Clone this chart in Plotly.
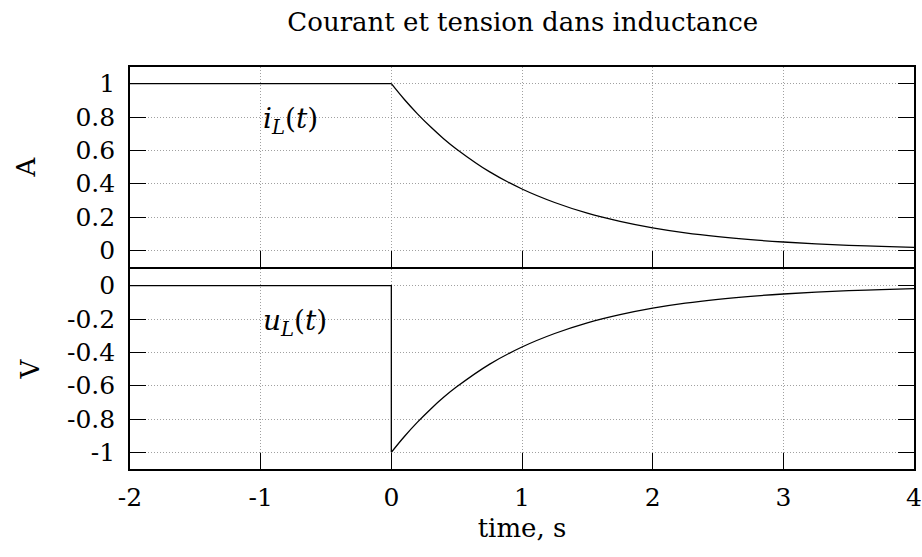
import plotly.graph_objects as go
from plotly.subplots import make_subplots

# ---- data ----
t_flat = [-2, 0]
i_flat = [1, 1]
t_decay = [0, 0.1, 0.2, 0.3, 0.4, 0.5, 0.75, 1.0, 1.25, 1.5, 1.75, 2.0, 2.25, 2.5,
           2.75, 3.0, 3.25, 3.5, 3.75, 4.0]
i_decay = [1.0, 0.905, 0.819, 0.741, 0.670, 0.607, 0.472, 0.368, 0.287, 0.223,
           0.174, 0.135, 0.105, 0.082, 0.064, 0.050, 0.039, 0.030, 0.024, 0.018]
u_step_t = [-2, 0, 0]
u_step = [0, 0, -1]
u_decay = [-1.0, -0.905, -0.819, -0.741, -0.670, -0.607, -0.472, -0.368, -0.287,
           -0.223, -0.174, -0.135, -0.105, -0.082, -0.064, -0.050, -0.039, -0.030,
           -0.024, -0.018]

x_ticks = [-2, -1, 0, 1, 2, 3, 4]
x_ticktext = ["-2", "-1", "0", "1", "2", "3", "4"]
i_ticks = [0, 0.2, 0.4, 0.6, 0.8, 1]
i_ticktext = ["0", "0.2", "0.4", "0.6", "0.8", "1"]
u_ticks = [-1, -0.8, -0.6, -0.4, -0.2, 0]
u_ticktext = ["-1", "-0.8", "-0.6", "-0.4", "-0.2", "0"]

FONT = "DejaVu Serif"
FS = 25
line = dict(color="black", width=1.3)

fig = make_subplots(rows=2, cols=1, shared_xaxes=True, vertical_spacing=0.005)

fig.add_trace(go.Scatter(x=t_flat, y=i_flat, mode="lines", line=line), row=1, col=1)
fig.add_trace(go.Scatter(x=t_decay, y=i_decay, mode="lines", line=dict(line, shape="spline")), row=1, col=1)
fig.add_trace(go.Scatter(x=u_step_t, y=u_step, mode="lines", line=line), row=2, col=1)
fig.add_trace(go.Scatter(x=t_decay, y=u_decay, mode="lines", line=dict(line, shape="spline")), row=2, col=1)

common_axis = dict(
    showline=True, linecolor="black", linewidth=1.6,
    ticks="inside", ticklen=16, tickwidth=1.3, tickcolor="black",
    showgrid=True, gridcolor="#a0a0a0", griddash="1px,2px", gridwidth=1,
    zeroline=False, automargin=False,
    tickfont=dict(family=FONT, size=FS, color="black"),
)

fig.update_xaxes(common_axis)
fig.update_xaxes(range=[-2, 4], tickvals=x_ticks, ticktext=x_ticktext, mirror=True,
                 ticklabelstandoff=5)
fig.update_xaxes(showticklabels=False, row=1, col=1)
fig.update_xaxes(title=dict(text="time, s", font=dict(family=FONT, size=26, color="black"), standoff=8),
                 row=2, col=1)

fig.update_yaxes(common_axis)
fig.update_yaxes(mirror="ticks", ticklabelstandoff=8)
fig.update_yaxes(range=[-0.1, 1.1], tickvals=i_ticks, ticktext=i_ticktext,
                 title=dict(text="A", font=dict(family=FONT, size=26, color="black"), standoff=32),
                 row=1, col=1)
fig.update_yaxes(range=[-1.1, 0.1], tickvals=u_ticks, ticktext=u_ticktext,
                 title=dict(text="V", font=dict(family=FONT, size=26, color="black"), standoff=20),
                 row=2, col=1)

fig.update_layout(
    width=922, height=557,
    margin=dict(l=130, r=8, t=67, b=88),
    paper_bgcolor="white", plot_bgcolor="white",
    showlegend=False,
    title=dict(text="Courant et tension dans inductance", x=0.567, xanchor="center",
               y=0.96, yanchor="middle", font=dict(family=FONT, size=26, color="black")),
    font=dict(family=FONT, color="black"),
)

fig.layout.yaxis.domain = [0.5025, 1.0]
fig.layout.yaxis2.domain = [0.0, 0.4975]

ann_font = dict(family=FONT, size=28, color="black")
fig.add_annotation(x=-1, y=0.78, xref="x", yref="y", text="<i>i</i><sub><i>L</i></sub>(<i>t</i>)",
                   showarrow=False, xanchor="left", yanchor="middle", font=ann_font)
fig.add_annotation(x=-1, y=-0.222, xref="x2", yref="y2", text="<i>u</i><sub><i>L</i></sub>(<i>t</i>)",
                   showarrow=False, xanchor="left", yanchor="middle", font=ann_font)

fig.write_html("out.html", config={"displayModeBar": False},
               post_script="document.body.style.margin='0';document.body.style.overflow='hidden';")
